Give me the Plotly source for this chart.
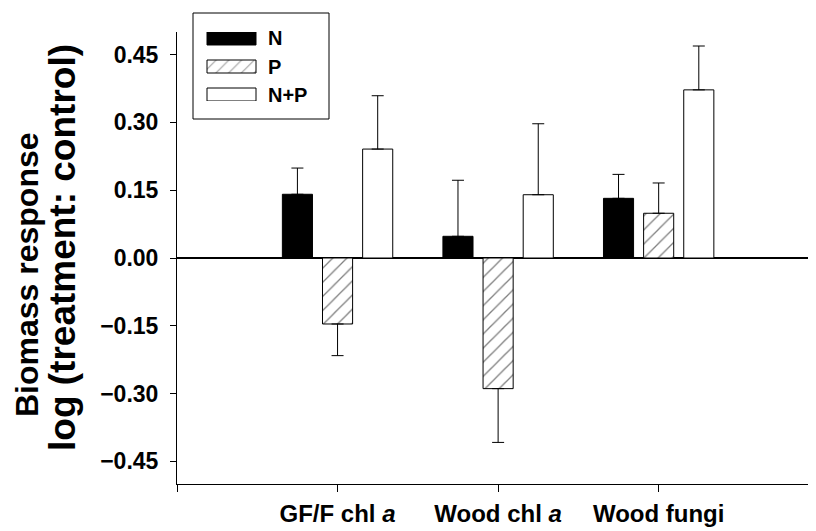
import plotly.graph_objects as go

categories = ["GF/F chl <i>a</i>", "Wood chl <i>a</i>", "Wood fungi"]
cat_pos = [0, 1, 2]
series_names = ["N", "P", "N+P"]
n_vals = [0.141, 0.048, 0.132]
n_err = [0.058, 0.124, 0.053]
p_vals = [-0.146, -0.289, 0.099]
p_err = [0.070, 0.119, 0.067]
np_vals = [0.241, 0.140, 0.372]
np_err = [0.118, 0.157, 0.097]
y_ticks = [-0.45, -0.30, -0.15, 0.00, 0.15, 0.30, 0.45]

FONT = "Liberation Sans, Arial, sans-serif"
OFF = 8  # page body margin offset
W, H = 816 - OFF, 531 - OFF
ML, MR, MT, MB = 177 - OFF, 0, 0, H - (484 - OFF)
PW, PH = W - ML - MR, H - MT - MB


def px(x):
    return (x - OFF - ML) / PW


def py(y):
    return (H - MB - (y - OFF)) / PH


def err_up(vals, errs):
    return [e if v >= 0 else 0 for v, e in zip(vals, errs)]


def err_dn(vals, errs):
    return [e if v < 0 else 0 for v, e in zip(vals, errs)]


hatch = dict(shape="/", size=10, solidity=0.13, fgcolor="black", bgcolor="white", fillmode="overlay")
styles = {
    "N": dict(color="black", pattern=dict(shape="")),
    "P": dict(color="white", pattern=hatch),
    "N+P": dict(color="white", pattern=dict(shape="")),
}

fig = go.Figure()
for name, vals, errs in [("N", n_vals, n_err), ("P", p_vals, p_err), ("N+P", np_vals, np_err)]:
    st = styles[name]
    fig.add_trace(go.Bar(
        x=cat_pos, y=vals, name=name, showlegend=False,
        marker=dict(color=st["color"], pattern=st["pattern"],
                    line=dict(color="black", width=1)),
        error_y=dict(type="data", symmetric=False,
                     array=err_up(vals, errs), arrayminus=err_dn(vals, errs),
                     color="black", thickness=1, width=6),
        xaxis="x", yaxis="y",
    ))

# legend drawn as an inset of horizontal bars
fig.add_trace(go.Bar(
    x=[1, 1, 1], y=[0, 1, 2], orientation="h", width=0.464, showlegend=False,
    marker=dict(color=[styles[s]["color"] for s in series_names],
                pattern=dict(shape=["", "/", ""], size=9, solidity=0.13,
                             fgcolor="black", bgcolor="white", fillmode="overlay"),
                line=dict(color="black", width=1)),
    xaxis="x2", yaxis="y2", hoverinfo="skip",
))

annotations = []
legend_y = [38.5, 66.5, 94.5]
for s, ly in zip(series_names, legend_y):
    annotations.append(dict(x=px(266), y=py(ly), xref="paper", yref="paper", text=s,
                            showarrow=False, xanchor="left", yanchor="middle",
                            font=dict(family=FONT, size=20, color="black", weight="bold")))

annotations.append(dict(x=px(27), y=py(275), xref="paper", yref="paper",
                        text="Biomass response", textangle=-90, showarrow=False,
                        xanchor="center", yanchor="middle",
                        font=dict(family=FONT, size=32, color="black", weight="bold")))
annotations.append(dict(x=px(62), y=py(248), xref="paper", yref="paper",
                        text="log (treatment: control)", textangle=-90, showarrow=False,
                        xanchor="center", yanchor="middle",
                        font=dict(family=FONT, size=37, color="black", weight="bold")))

fig.update_layout(
    width=W, height=H,
    margin=dict(l=ML, r=MR, t=MT, b=MB),
    paper_bgcolor="white", plot_bgcolor="white",
    barmode="group", bargap=0.25, bargroupgap=0.25,
    font=dict(family=FONT, color="black"),
    xaxis=dict(range=[-1, 2.98], domain=[0, 1],
               tickvals=[-1] + cat_pos, ticktext=[""] + categories,
               ticks="outside", ticklen=7, tickcolor="black", tickwidth=1,
               showline=True, linecolor="black", linewidth=1,
               showgrid=False, zeroline=False, ticklabelstandoff=1,
               tickfont=dict(family=FONT, size=24, color="black", weight="bold"), anchor="y"),
    yaxis=dict(range=[-0.5, 0.5], domain=[0, py(32)],
               tickvals=y_ticks, tickformat=".2f",
               ticks="outside", ticklen=6, tickcolor="black", tickwidth=1,
               showline=True, linecolor="black", linewidth=1,
               showgrid=False, zeroline=True, zerolinecolor="black", zerolinewidth=2,
               ticklabelstandoff=7,
               tickfont=dict(family=FONT, size=23, color="black", weight="bold"), anchor="x"),
    xaxis2=dict(range=[-0.02, 1.02], domain=[px(206.02), px(256.98)], anchor="y2",
                visible=False, fixedrange=True),
    yaxis2=dict(range=[2.232, -0.232], domain=[py(101), py(32)], anchor="x2",
                visible=False, fixedrange=True),
    shapes=[dict(type="rect", xref="paper", yref="paper",
                 x0=px(193), x1=px(329), y0=py(119), y1=py(13),
                 line=dict(color="black", width=1), fillcolor="rgba(0,0,0,0)", layer="above")],
    annotations=annotations,
)

fig.write_html("out.html")
